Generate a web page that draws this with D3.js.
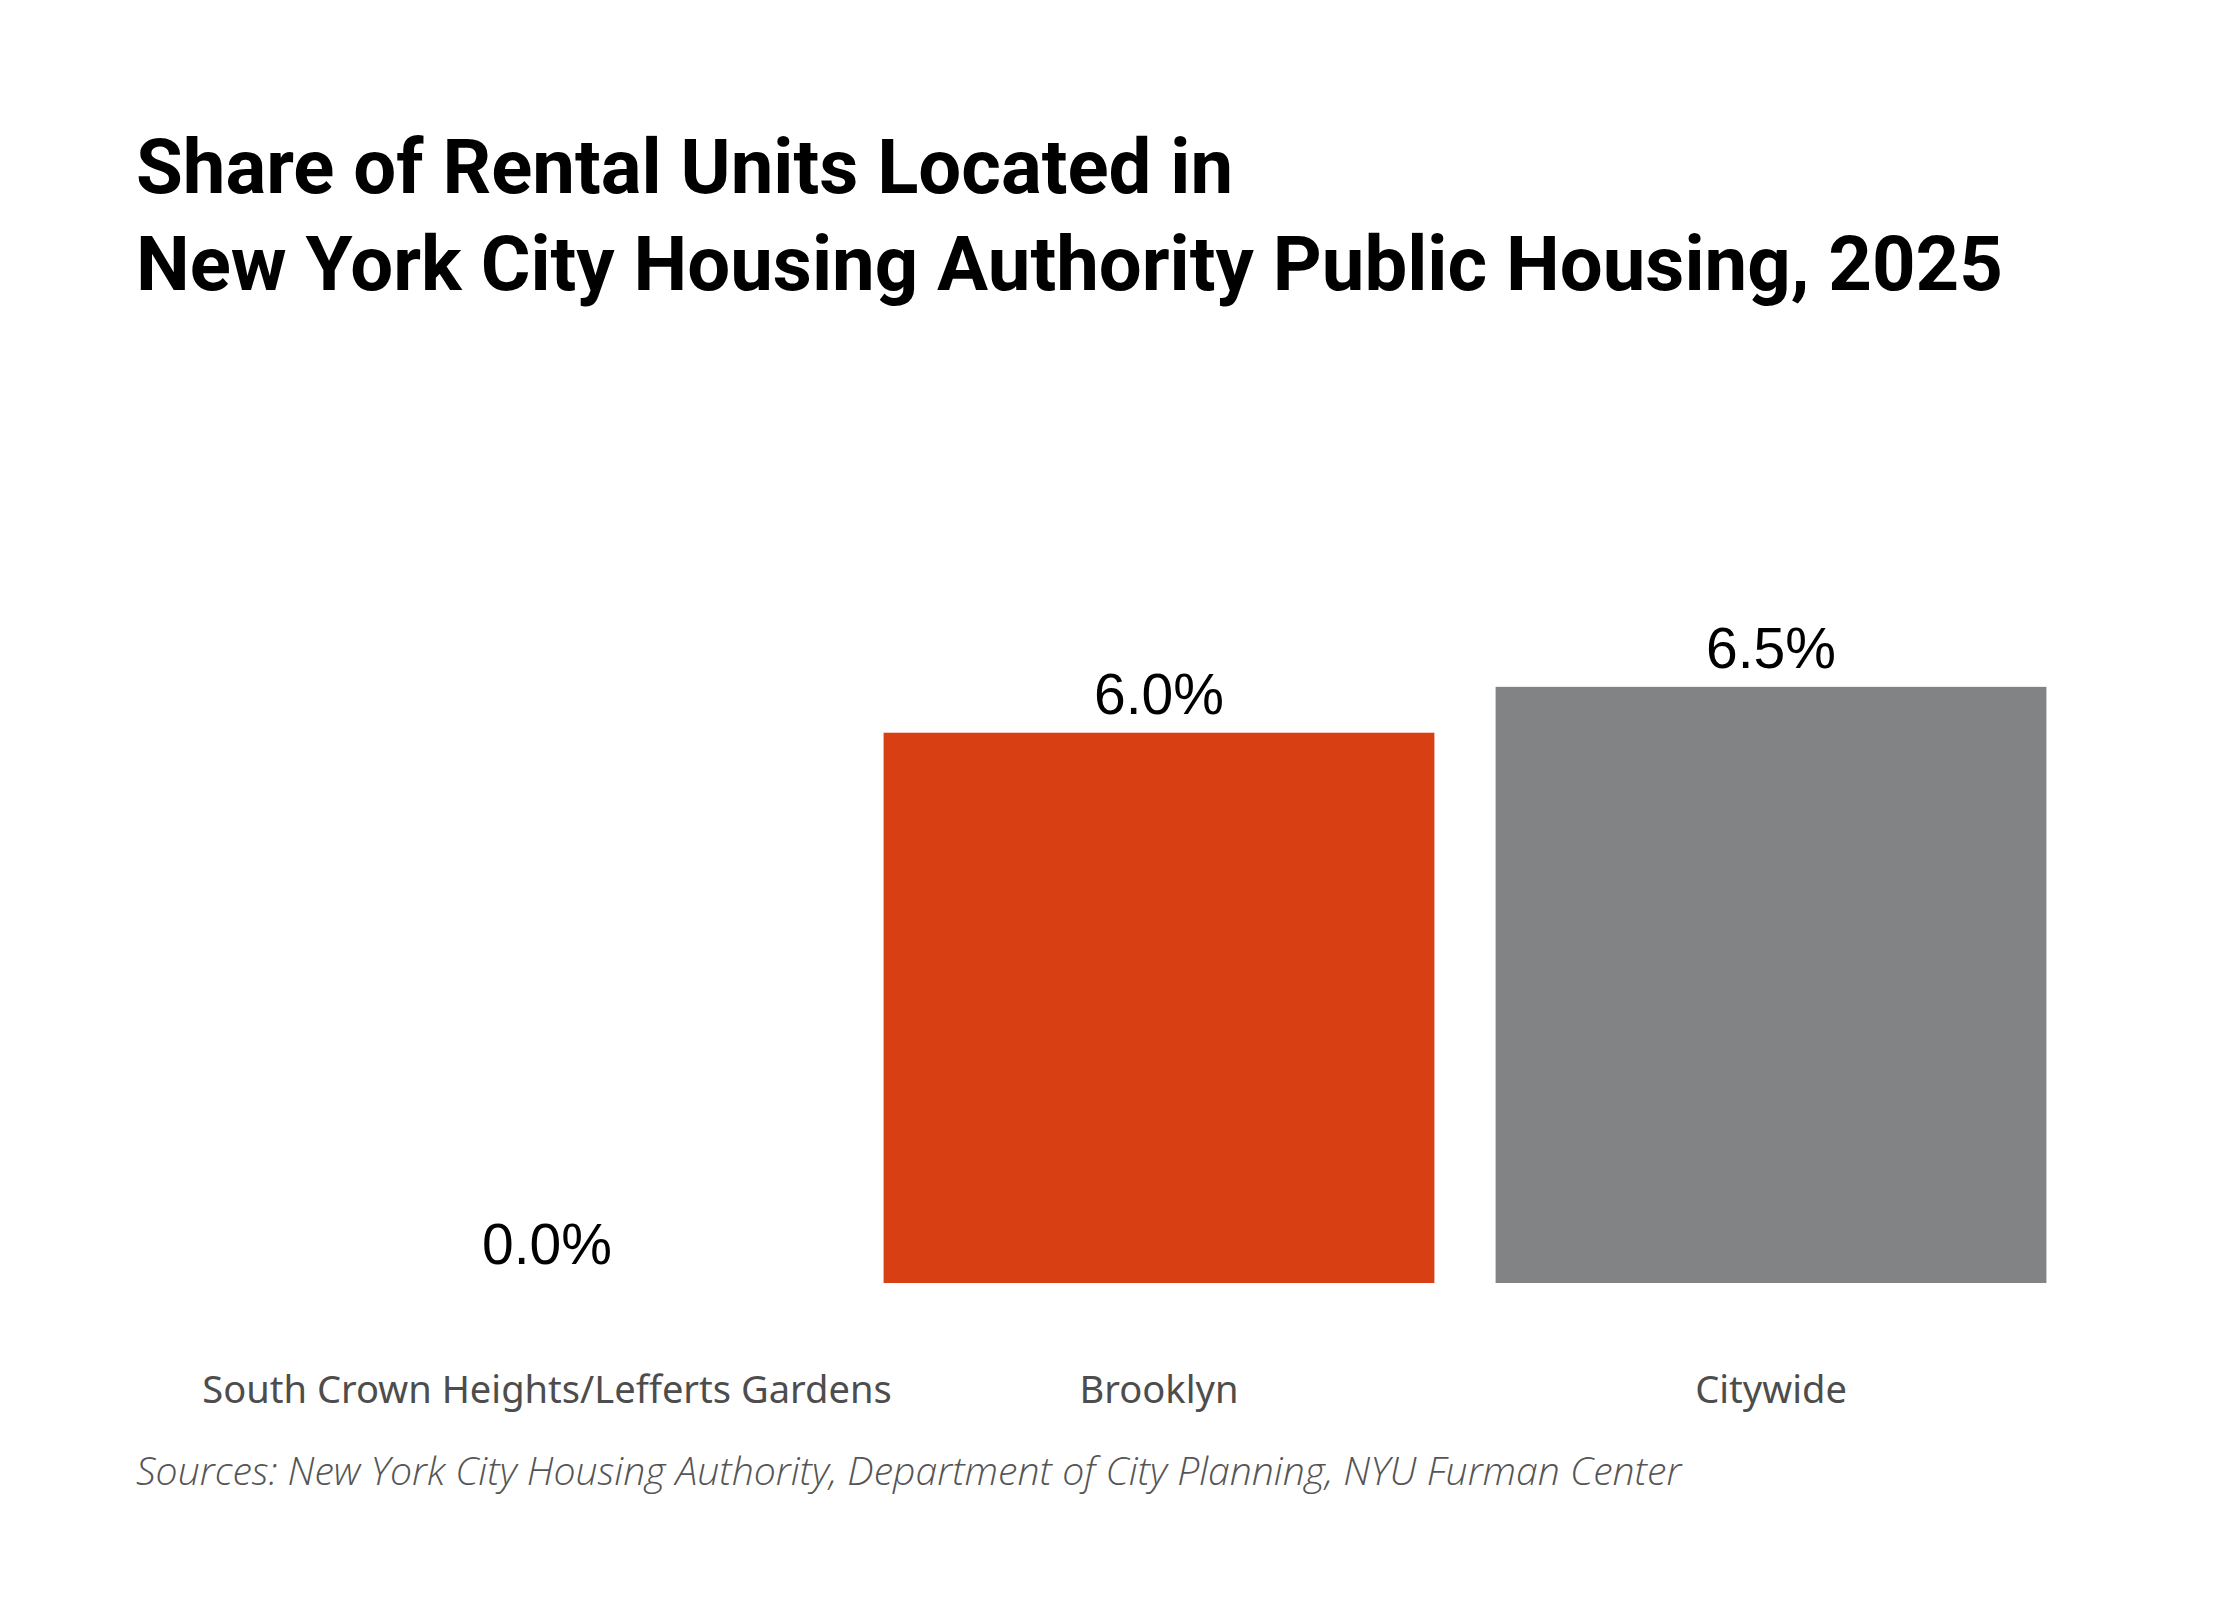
<!DOCTYPE html>
<html>
<head>
<meta charset="utf-8">
<script src="https://cdn.jsdelivr.net/npm/d3@7"></script>
<style>
  body { margin: 0; background: #fff; }
  svg { display: block; }
</style>
</head>
<body>
<script>
const categories = ['South Crown Heights/Lefferts Gardens', 'Brooklyn', 'Citywide'];
const values = [0.0, 6.0, 6.5];
const barColors = ['#d84013', '#d84013', '#828385'];
const titleLines = [
  'Share of Rental Units Located in',
  'New York City Housing Authority Public Housing, 2025'
];
const sourceNote = 'Sources: New York City Housing Authority, Department of City Planning, NYU Furman Center';

const WIDTH = 2240;
const HEIGHT = 1600;

const svg = d3.select('body').append('svg')
  .attr('width', WIDTH)
  .attr('height', HEIGHT);

svg.append('rect')
  .attr('width', WIDTH)
  .attr('height', HEIGHT)
  .attr('fill', '#fff');

// scale font size of a text group so a given node reaches the wanted width
const fitWidth = function(sel, node, target) {
  const size = +sel.attr('font-size');
  const w = node.getComputedTextLength();
  sel.attr('font-size', (size * target / w).toFixed(1));
};

const x = d3.scaleBand()
  .domain(categories)
  .range([241, 2077])
  .paddingInner(0.1)
  .paddingOuter(0.05);

const y = d3.scaleLinear()
  .domain([0, 7])
  .range([1283, 641]);

// title
const title = svg.append('g')
  .attr('font-family', 'Roboto, sans-serif')
  .attr('font-weight', 700)
  .attr('font-size', 68)
  .attr('fill', '#000');

title.selectAll('text')
  .data(titleLines)
  .join('text')
  .attr('x', 136)
  .attr('y', (d, i) => 193 + i * 97)
  .text(d => d);

fitWidth(title, title.selectAll('text').nodes()[1], 1866);

const data = categories.map((c, i) => ({ name: c, value: values[i], color: barColors[i] }));

// bars
svg.append('g').selectAll('rect')
  .data(data)
  .join('rect')
  .attr('x', d => x(d.name))
  .attr('y', d => y(d.value))
  .attr('width', x.bandwidth())
  .attr('height', d => y(0) - y(d.value))
  .attr('fill', d => d.color);

// value labels
svg.append('g').selectAll('text')
  .data(data)
  .join('text')
  .attr('x', d => x(d.name) + x.bandwidth() / 2)
  .attr('y', d => y(d.value) - 19)
  .attr('text-anchor', 'middle')
  .attr('font-family', '"Liberation Sans", Arial, sans-serif')
  .attr('font-size', 57)
  .attr('fill', '#000')
  .text(d => d.value.toFixed(1) + '%');

// category axis, no line or ticks
const xAxis = svg.append('g')
  .attr('transform', `translate(0,${y(0)})`)
  .call(d3.axisBottom(x).tickSize(0).tickPadding(120));

xAxis.select('.domain').remove();
xAxis
  .attr('font-family', '"Noto Sans", sans-serif')
  .attr('font-size', 35);
xAxis.selectAll('text')
  .attr('fill', '#4d4d4d')
  .attr('dy', null);

fitWidth(xAxis, xAxis.select('text').node(), 689);

// source note
const source = svg.append('text')
  .attr('x', 136)
  .attr('y', 1485)
  .attr('font-family', '"Open Sans", sans-serif')
  .attr('font-style', 'italic')
  .attr('font-weight', 300)
  .attr('font-size', 36)
  .attr('fill', '#555')
  .text(sourceNote);

fitWidth(source, source.node(), 1546);
</script>
</body>
</html>
